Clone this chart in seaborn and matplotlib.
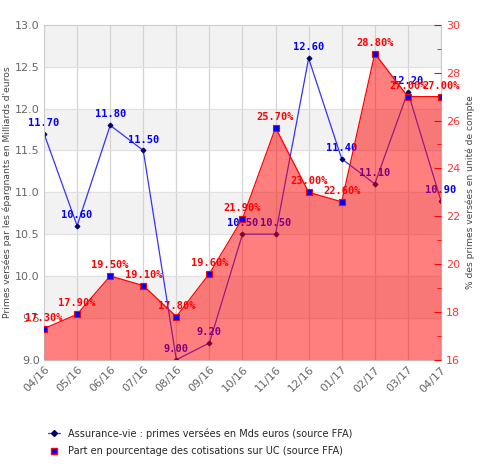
import seaborn as sns
import matplotlib.pyplot as plt
import pandas as pd
from matplotlib.lines import Line2D
from matplotlib.ticker import MultipleLocator

months = ["04/16", "05/16", "06/16", "07/16", "08/16", "09/16", "10/16",
          "11/16", "12/16", "01/17", "02/17", "03/17", "04/17"]
primes = [11.70, 10.60, 11.80, 11.50, 9.00, 9.20, 10.50, 10.50, 12.60, 11.40, 11.10, 12.20, 10.90]
part_uc = [17.30, 17.90, 19.50, 19.10, 17.80, 19.60, 21.90, 25.70, 23.00, 22.60, 28.80, 27.00, 27.00]

df = pd.DataFrame({"idx": range(len(months)), "mois": months,
                   "primes": primes, "uc": part_uc})

sns.set_style("white")
fig = plt.figure(figsize=(4.84, 4.69), dpi=100)
ax1 = fig.add_axes([0.091, 0.233, 0.82, 0.714])
ax2 = ax1.twinx()

# alternating grey bands
for lo in [9.5, 10.5, 11.5, 12.5]:
    ax1.axhspan(lo, lo + 0.5, color="#f2f2f2", zorder=0)
for x in df["idx"]:
    ax1.axvline(x, color="#d4d4d4", lw=0.9, zorder=0.5)
for y in [9.5, 10, 10.5, 11, 11.5, 12, 12.5]:
    ax1.axhline(y, color="#e0e0e0", lw=0.8, zorder=0.5)

sns.lineplot(data=df, x="idx", y="primes", ax=ax1, color="#3333ff", lw=0.9,
             marker="D", markersize=2.5, markerfacecolor="#000066",
             markeredgecolor="#000066", zorder=2)
for i, v in zip(df["idx"], primes):
    ax1.text(i, v + 0.07, f"{v:.2f}", color="blue", ha="center", va="bottom",
             fontsize=7.5, fontweight="bold", family="DejaVu Sans Mono", zorder=2)

ax2.fill_between(df["idx"], part_uc, 16, color="#ff0000", alpha=0.5, lw=0, zorder=1)
sns.lineplot(data=df, x="idx", y="uc", ax=ax2, color="red", lw=0.9,
             marker="s", markersize=4, markerfacecolor="blue",
             markeredgecolor="red", markeredgewidth=0.8, zorder=3)
for i, v in zip(df["idx"], part_uc):
    ax2.text(i, v + 0.25, f"{v:.2f}%", color="red", ha="center", va="bottom",
             fontsize=7.5, fontweight="bold", family="DejaVu Sans Mono", zorder=4)

ax1.set_xlim(0, 12)
ax1.set_ylim(9, 13)
ax2.set_ylim(16, 30)
ax1.set_xticks(df["idx"])
ax1.set_xticklabels(months, rotation=45, ha="right", rotation_mode="anchor",
                    color="#666666", fontsize=8)
ax1.yaxis.set_major_locator(MultipleLocator(0.5))
ax1.set_yticklabels([f"{t:.1f}" for t in ax1.get_yticks()])
ax1.tick_params(axis="y", colors="#666666", labelsize=8, length=0, pad=3)
ax1.tick_params(axis="x", length=0)
ax2.yaxis.set_major_locator(MultipleLocator(2))
ax2.yaxis.set_minor_locator(MultipleLocator(1))
ax2.tick_params(axis="y", which="both", colors="red", labelcolor="#ff3333",
                labelsize=8, direction="in")
ax2.tick_params(axis="y", which="major", length=5)
ax2.tick_params(axis="y", which="minor", length=3)

ax1.set_xlabel("")
ax1.set_ylabel("Primes versées par les épargnants en Milliards d'euros",
               fontsize=6.6, color="#444444", labelpad=2)
ax2.set_ylabel("% des primes versées en unité de compte", fontsize=6.6,
               color="#444444", labelpad=4)
for sp in ax1.spines.values():
    sp.set_color("#cccccc")
for sp in ax2.spines.values():
    sp.set_visible(False)

handles = [
    Line2D([], [], color="#3333ff", lw=0.9, marker="D", markersize=3,
           markerfacecolor="#000066", markeredgecolor="#000066"),
    Line2D([], [], lw=0, marker="s", markersize=5, markerfacecolor="blue",
           markeredgecolor="red"),
]
fig.legend(handles, ["Assurance-vie : primes versées en Mds euros (source FFA)",
                     "Part en pourcentage des cotisations sur UC (source FFA)"],
           loc="upper left", bbox_to_anchor=(0.09, 0.097), frameon=False,
           fontsize=7, handlelength=1.2, labelspacing=0.75, borderpad=0)

fig.savefig("out.png", dpi=100)
